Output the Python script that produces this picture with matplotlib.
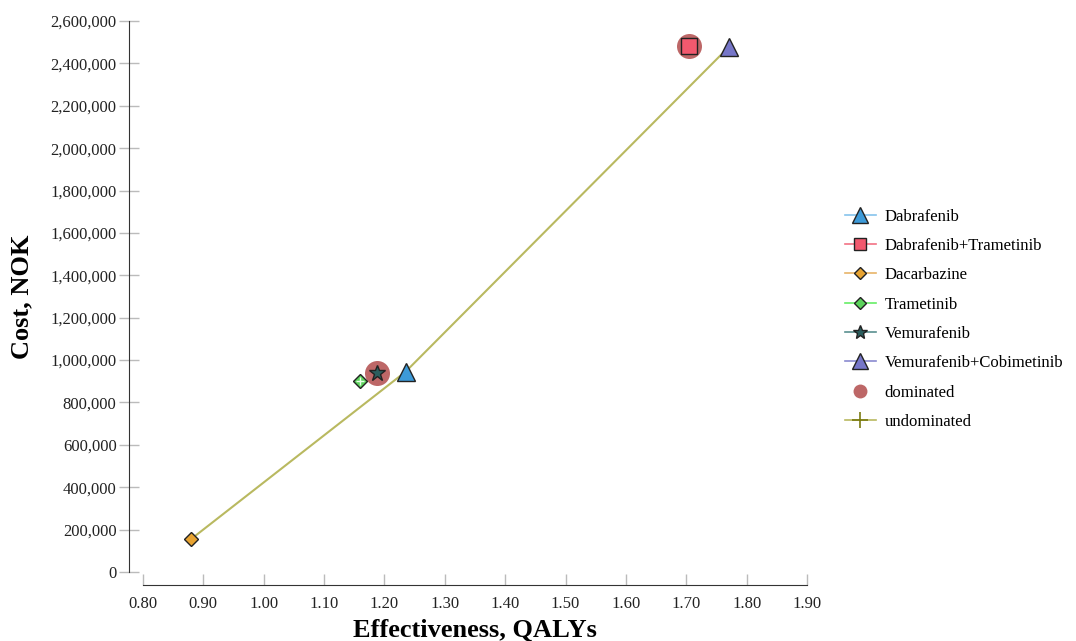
import matplotlib
matplotlib.use("Agg")
import matplotlib.pyplot as plt
from matplotlib.lines import Line2D
from matplotlib.ticker import FuncFormatter, MultipleLocator

# ---------- data ----------
strategies = ["Dabrafenib", "Dabrafenib+Trametinib", "Dacarbazine",
              "Trametinib", "Vemurafenib", "Vemurafenib+Cobimetinib"]
effect = [1.235, 1.705, 0.880, 1.160, 1.188, 1.770]        # QALYs
cost = [945000, 2481000, 156000, 901000, 940000, 2476000]  # NOK

dominated = ["Dabrafenib+Trametinib", "Vemurafenib"]
undominated = ["Dacarbazine", "Dabrafenib", "Vemurafenib+Cobimetinib"]

# ---------- styles ----------
styles = {
    "Dabrafenib": dict(marker="^", ms=13, mfc="#3d9ad8", line="#86c4ec"),
    "Dabrafenib+Trametinib": dict(marker="s", ms=11, mfc="#f2596e", line="#f27284"),
    "Dacarbazine": dict(marker="D", ms=7, mfc="#e8a331", line="#e8b468"),
    "Trametinib": dict(marker="D", ms=7, mfc="#5cd35c", line="#66ee66"),
    "Vemurafenib": dict(marker="*", ms=12, mfc="#2b5e5e", line="#5a9090"),
    "Vemurafenib+Cobimetinib": dict(marker="^", ms=13, mfc="#7676c8", line="#8a8ad0"),
}
dom_color = "#b24c4c"
undom_color = "#b9b960"

plt.rcParams["font.family"] = ["Liberation Serif", "DejaVu Serif"]

fig = plt.figure(figsize=(10.76, 6.41), dpi=100)
ax = fig.add_axes([143 / 1076, 1 - 572 / 641, (807 - 143) / 1076, (572 - 21) / 641])

lookup = dict(zip(strategies, zip(effect, cost)))

# frontier line
ux = [lookup[s][0] for s in undominated]
uy = [lookup[s][1] for s in undominated]
ax.plot(ux, uy, color=undom_color, lw=1.5, zorder=2)

# dominated halos
for s in dominated:
    ax.plot(*lookup[s], marker="o", ms=18, color=dom_color, alpha=0.85,
            mec="none", ls="none", zorder=3)

# strategy markers
for s, x, y in zip(strategies, effect, cost):
    st = styles[s]
    ax.plot(x, y, marker=st["marker"], ms=st["ms"], mfc=st["mfc"], mec="#222222",
            mew=1.0, ls="none", zorder=4)
    if s == "Trametinib":
        ax.plot(x, y, marker="+", ms=6, mec="#e8ffe8", mew=1.0, ls="none", zorder=5)

ax.set_xlim(0.80, 1.90)
ax.set_ylim(0, 2600000)
ax.xaxis.set_major_locator(MultipleLocator(0.10))
ax.yaxis.set_major_locator(MultipleLocator(200000))
ax.xaxis.set_major_formatter(FuncFormatter(lambda v, p: f"{v:.2f}"))
ax.yaxis.set_major_formatter(FuncFormatter(lambda v, p: f"{v:,.0f}"))

for side in ["top", "right"]:
    ax.spines[side].set_visible(False)
ax.spines["left"].set_position(("outward", 10))
ax.spines["bottom"].set_position(("outward", 9))
ax.spines["left"].set_color("#333333")
ax.spines["bottom"].set_color("#333333")
ax.tick_params(axis="y", direction="inout", length=14, width=1, color="#bbbbbb",
               labelsize=12, labelcolor="#222222", pad=2)
ax.tick_params(axis="x", direction="in", length=8, width=1, color="#bbbbbb",
               labelsize=12, labelcolor="#222222", pad=8)

ax.set_xlabel("Effectiveness, QALYs", fontsize=19, fontweight="bold", labelpad=5)
ax.set_ylabel("Cost, NOK", fontsize=19, fontweight="bold", labelpad=12)

# ---------- legend ----------
handles = []
for s in strategies:
    st = styles[s]
    handles.append(Line2D([], [], color=st["line"], lw=1.2, marker=st["marker"],
                          ms=st["ms"] * 0.85, mfc=st["mfc"], mec="#222222", mew=1.0))
handles.append(Line2D([], [], ls="none", marker="o", ms=10, color=dom_color,
                      alpha=0.85, mec="none"))
handles.append(Line2D([], [], color=undom_color, lw=1.2, marker="+", ms=12,
                      mec="#7a7a10", mew=1.2))
labels = strategies + ["dominated", "undominated"]
fig.legend(handles, labels, loc="center left", bbox_to_anchor=(0.771, 0.502),
           frameon=False, fontsize=12, handlelength=1.9, labelspacing=0.8,
           handletextpad=0.5)

fig.savefig("out.png", dpi=100)
